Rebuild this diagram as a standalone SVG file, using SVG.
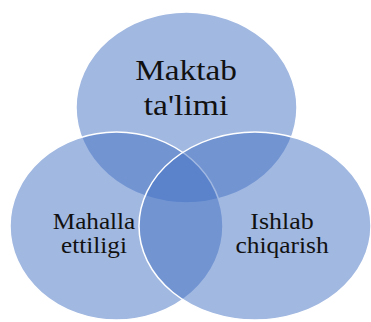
<svg xmlns="http://www.w3.org/2000/svg" width="371" height="322" viewBox="0 0 371 322">
<style>
.c{fill:#4472C4;fill-opacity:0.5;stroke:#ffffff;stroke-width:1.5}
.t{fill:#111111;text-anchor:middle}
</style>
<rect width="371" height="322" fill="#ffffff"/>
<g id="maktab">
<ellipse class="c" cx="186.5" cy="107.5" rx="110.5" ry="95.5"/>
<g transform="translate(186,80) scale(1.11,1)"><text class="t" x="0" y="0" font-family="'Liberation Serif', 'DejaVu Serif', serif" font-size="30">Maktab</text></g>
<g transform="translate(186,115) scale(1.12,1)"><text class="t" x="0" y="0" font-family="'Liberation Serif', 'DejaVu Serif', serif" font-size="30">ta'limi</text></g>
</g>
<g id="mahalla">
<ellipse class="c" cx="116.5" cy="226" rx="106.5" ry="94"/>
<g transform="translate(94,229) scale(1.05,1)"><text class="t" x="0" y="0" font-family="'Liberation Serif', 'DejaVu Serif', serif" font-size="24">Mahalla</text></g>
<g transform="translate(94,253) scale(1.05,1)"><text class="t" x="0" y="0" font-family="'Liberation Serif', 'DejaVu Serif', serif" font-size="24">ettiligi</text></g>
</g>
<g id="ishlab">
<ellipse class="c" cx="255" cy="226" rx="116" ry="94"/>
<g transform="translate(282,229) scale(1.08,1)"><text class="t" x="0" y="0" font-family="'Liberation Serif', 'DejaVu Serif', serif" font-size="24">Ishlab</text></g>
<g transform="translate(282,253) scale(1.06,1)"><text class="t" x="0" y="0" font-family="'Liberation Serif', 'DejaVu Serif', serif" font-size="24">chiqarish</text></g>
</g>
<g id="connectors"/>
</svg>
